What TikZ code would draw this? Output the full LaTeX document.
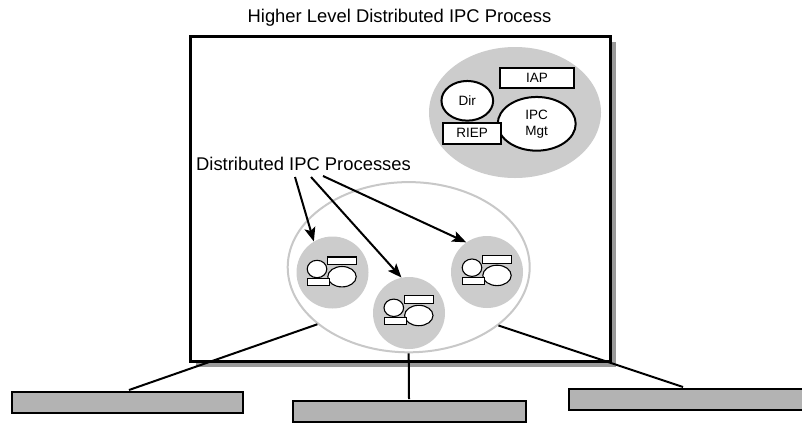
\documentclass[tikz,border=0pt]{standalone}
\usepackage{fontspec}
\setmainfont{Liberation Sans}
\usetikzlibrary{arrows.meta,shapes.geometric,shadows,calc}
\definecolor{fillgray}{HTML}{CCCCCC}
\definecolor{boxgray}{HTML}{B3B3B3}
\definecolor{shadowgray}{HTML}{999999}
\definecolor{ringgray}{HTML}{C8C8C8}
\tikzset{
  bigtext/.style={font=\fontsize{18.4}{20}\selectfont},
  smalltext/.style={font=\fontsize{13.5}{16}\selectfont, align=center},
  grayblob/.style={fill=fillgray, draw=none, inner sep=0pt},
  partbox/.style={draw=black, line width=2pt, fill=white, rectangle, inner sep=0pt, smalltext},
  partoval/.style={draw=black, line width=2pt, fill=white, ellipse, inner sep=0pt, smalltext},
  pointer/.style={line width=2pt, -{Stealth[length=14pt,width=11pt,inset=3pt]}},
  link/.style={line width=2pt},
  basebox/.style={draw=black, line width=2pt, fill=boxgray, rectangle, inner sep=0pt, minimum height=21pt},
  icon/.pic={
    \draw[line width=1.1pt, fill=white] (-14.7,-3) ellipse [x radius=9.8, y radius=8.7];
    \draw[line width=1.1pt, fill=white] (-4,-15) rectangle (24.6,-7.4);
    \draw[line width=1.1pt, fill=white] (10.3,4.7) ellipse [x radius=14.2, y radius=10.2];
    \draw[line width=1.1pt, fill=white] (-24,6.7) rectangle (-2.1,13.6);
  }
}
\begin{document}
\begin{tikzpicture}[x=1pt,y=-1pt]
\useasboundingbox (0,0) rectangle (802,424);

% title
\node[bigtext, anchor=base] (title) at (399.5,22.7) {Higher Level Distributed IPC Process};

% main box with shadow
\node[draw=black, line width=2.7pt, fill=white, rectangle, inner sep=0pt,
      minimum width=420.3pt, minimum height=325.3pt,
      drop shadow={shadow xshift=5.5pt, shadow yshift=-5.5pt, opacity=1, fill=shadowgray}]
      (main) at (400.5,199) {};

% management group (top right)
\node[grayblob, ellipse, minimum width=172pt, minimum height=131pt] (mgmt) at (515,112.5) {};
\node[partoval, minimum width=51.7pt, minimum height=39.7pt] (dir) at (467.3,100.8) {Dir};
\node[partbox, minimum width=74pt, minimum height=20pt] (iap) at (537,78.3) {IAP};
\node[partoval, minimum width=78pt, minimum height=53.7pt] (ipc) at (536.7,123.8) {IPC\\Mgt};
\node[partbox, minimum width=57.4pt, minimum height=21.3pt] (riep) at (472,133.3) {RIEP};

% big ring of distributed processes
\node[draw=ringgray, line width=2pt, ellipse, inner sep=0pt,
      minimum width=242pt, minimum height=170.2pt] (ring) at (408.7,267.2) {};

% distributed processes
\node[grayblob, circle, minimum size=72pt] (c1) at (332.5,272.5) {};
\node[grayblob, circle, minimum size=72pt] (c2) at (409,313) {};
\node[grayblob, circle, minimum size=72pt] (c3) at (487,272) {};
\pic at ($(c1)+(-0.8,-0.5)$) {icon};
\pic at ($(c2)+(-0.5,-2.2)$) {icon};
\pic at ($(c3)+(-0.3,-1.3)$) {icon};

% label and arrows
\node[bigtext, anchor=base] (label) at (303.5,170) {Distributed IPC Processes};
\coordinate (t1) at (295,177);
\coordinate (t2) at (311,177);
\coordinate (t3) at (323,176);
\draw[pointer] (t1) -- (c1.121);
\draw[pointer] (t2) -- (c2.102);
\draw[pointer] (t3) -- (c3.125);

% bottom boxes
\node[basebox, minimum width=231pt] (lb) at (127,402.5) {};
\node[basebox, minimum width=233pt] (mb) at (409,411.5) {};
\node[basebox, minimum width=236pt] (rb) at (687,399.5) {};

% links from ring to bottom boxes
\draw[link] (ring.212.2) -- ($(lb.north)+(2,-1)$);
\draw[link] (ring.south) -- ($(mb.north)+(0,-1)$);
\draw[link] (ring.327.8) -- ($(rb.north)+(-4,-1)$);
\end{tikzpicture}
\end{document}
